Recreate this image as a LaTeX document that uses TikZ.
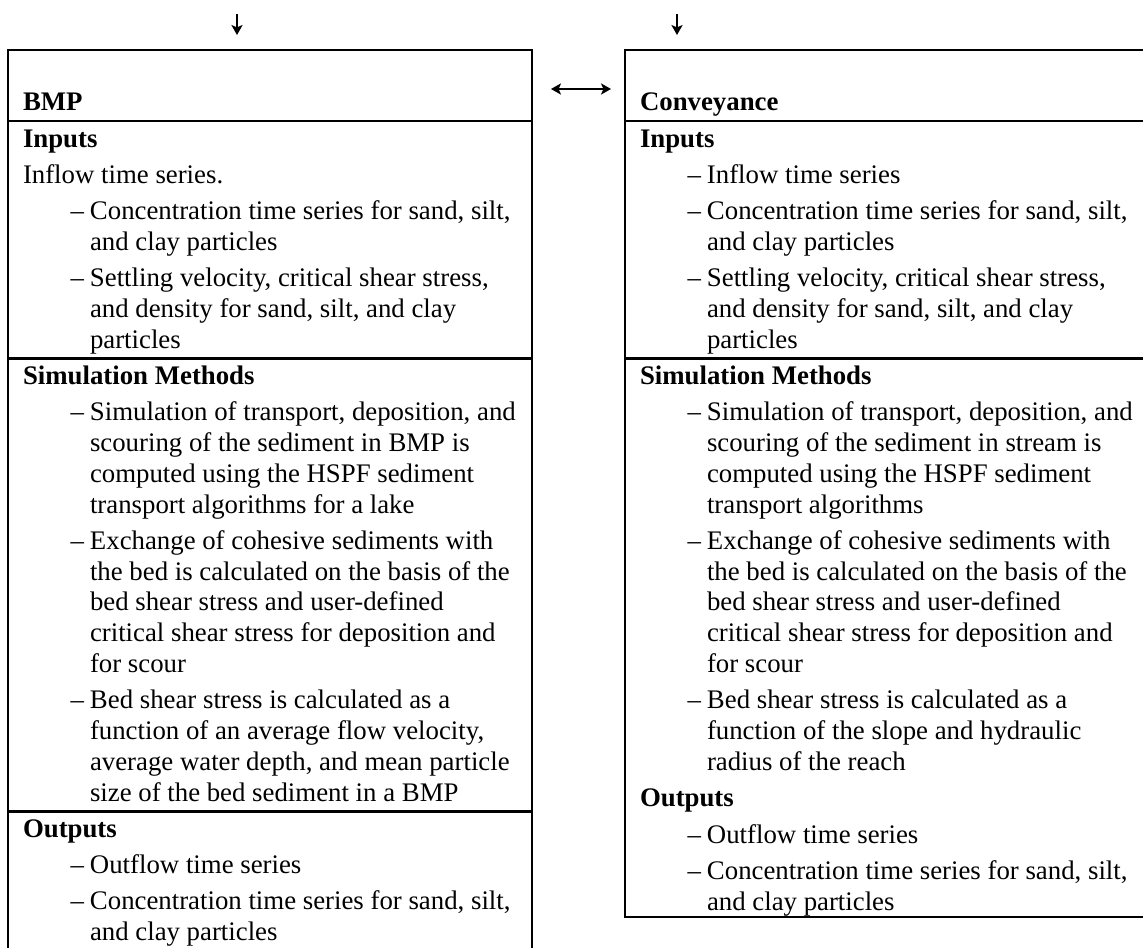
\documentclass[tikz,border=0pt]{standalone}
\usepackage{fontspec}
\setmainfont{Liberation Serif}
\usetikzlibrary{arrows.meta}
% one typeset line inside a multi-line item
\newcommand\txtline[1]{\hbox{#1}}
% dashed list item: dash hangs to the left of the first line
\newcommand\dashitem[1]{\llap{–\kern3pt}\vtop{#1}}
\begin{document}
\begin{tikzpicture}[x=0.5pt,y=-0.5pt,
  txt/.style={anchor=base west,inner sep=0pt,outer sep=0pt,font=\fontsize{13.4}{15.4}\selectfont},
  head/.style={txt,font=\fontsize{13.4}{15.4}\selectfont\bfseries},
  frame/.style={line width=1.3pt},
  tip/.tip={Stealth[length=5pt,width=5.6pt,inset=1.2pt]},
  arr/.style={line width=0.75pt,-tip},
  darr/.style={line width=0.75pt,tip-tip}]
\useasboundingbox (0,0) rectangle (1143,947);
\clip (0,0) rectangle (1143,947);

% ---------- frames ----------
% BMP box (open at the bottom of the sheet)
\draw[frame] (8,970) -- (8,50) -- (532,50) -- (532,970);
\draw[frame] (8,121) -- (532,121);
\draw[frame] (8,358.3) -- (532,358.3);
\draw[frame] (8,811.2) -- (532,811.2);
% Conveyance box (runs past the right edge of the sheet)
\draw[frame] (1170,50) -- (625,50) -- (625,917) -- (1170,917);
\draw[frame] (625,121) -- (1170,121);
\draw[frame] (625,358.3) -- (1170,358.3);

% ---------- arrows ----------
\coordinate (inL1) at (237,14);
\coordinate (inL2) at (237,35);
\coordinate (inR1) at (677,14);
\coordinate (inR2) at (677,35);
\coordinate (lnkA) at (551,89);
\coordinate (lnkB) at (611,89);
\draw[arr] (inL1) -- (inL2);
\draw[arr] (inR1) -- (inR2);
\draw[darr] (lnkA) -- (lnkB);

% ---------- BMP column ----------
\node[head] (bmpT) at (23,111) {BMP};
\node[head] (bmpIn) at (23,147) {Inputs};
\node[txt] (bmpIn0) at (23,183.3) {Inflow time series.};
\node[txt] (bmpIn1) at (90,219.6) {\dashitem{\txtline{Concentration time series for sand, silt,}\txtline{and clay particles}}};
\node[txt] (bmpIn2) at (90,286.7) {\dashitem{\txtline{Settling velocity, critical shear stress,}\txtline{and density for sand, silt, and clay}\txtline{particles}}};
\node[head] (bmpSim) at (23,384.3) {Simulation Methods};
\node[txt] (bmpSim1) at (90,420.6) {\dashitem{\txtline{Simulation of transport, deposition, and}\txtline{scouring of the sediment in BMP is}\txtline{computed using the HSPF sediment}\txtline{transport algorithms for a lake}}};
\node[txt] (bmpSim2) at (90,549.3) {\dashitem{\txtline{Exchange of cohesive sediments with}\txtline{the bed is calculated on the basis of the}\txtline{bed shear stress and user-defined}\txtline{critical shear stress for deposition and}\txtline{for scour}}};
\node[txt] (bmpSim3) at (90,708.8) {\dashitem{\txtline{Bed shear stress is calculated as a}\txtline{function of an average flow velocity,}\txtline{average water depth, and mean particle}\txtline{size of the bed sediment in a BMP}}};
\node[head] (bmpOut) at (23,837.2) {Outputs};
\node[txt] (bmpOut1) at (90,873.5) {\dashitem{\txtline{Outflow time series}}};
\node[txt] (bmpOut2) at (90,909.8) {\dashitem{\txtline{Concentration time series for sand, silt,}\txtline{and clay particles}}};

% ---------- Conveyance column ----------
\node[head] (cnvT) at (640,111) {Conveyance};
\node[head] (cnvIn) at (640,147) {Inputs};
\node[txt] (cnvIn0) at (707,183.3) {\dashitem{\txtline{Inflow time series}}};
\node[txt] (cnvIn1) at (707,219.6) {\dashitem{\txtline{Concentration time series for sand, silt,}\txtline{and clay particles}}};
\node[txt] (cnvIn2) at (707,286.7) {\dashitem{\txtline{Settling velocity, critical shear stress,}\txtline{and density for sand, silt, and clay}\txtline{particles}}};
\node[head] (cnvSim) at (640,384.3) {Simulation Methods};
\node[txt] (cnvSim1) at (707,420.6) {\dashitem{\txtline{Simulation of transport, deposition, and}\txtline{scouring of the sediment in stream is}\txtline{computed using the HSPF sediment}\txtline{transport algorithms}}};
\node[txt] (cnvSim2) at (707,549.3) {\dashitem{\txtline{Exchange of cohesive sediments with}\txtline{the bed is calculated on the basis of the}\txtline{bed shear stress and user-defined}\txtline{critical shear stress for deposition and}\txtline{for scour}}};
\node[txt] (cnvSim3) at (707,708.8) {\dashitem{\txtline{Bed shear stress is calculated as a}\txtline{function of the slope and hydraulic}\txtline{radius of the reach}}};
\node[head] (cnvOut) at (640,806.7) {Outputs};
\node[txt] (cnvOut1) at (707,843) {\dashitem{\txtline{Outflow time series}}};
\node[txt] (cnvOut2) at (707,879.3) {\dashitem{\txtline{Concentration time series for sand, silt,}\txtline{and clay particles}}};
\end{tikzpicture}
\end{document}
